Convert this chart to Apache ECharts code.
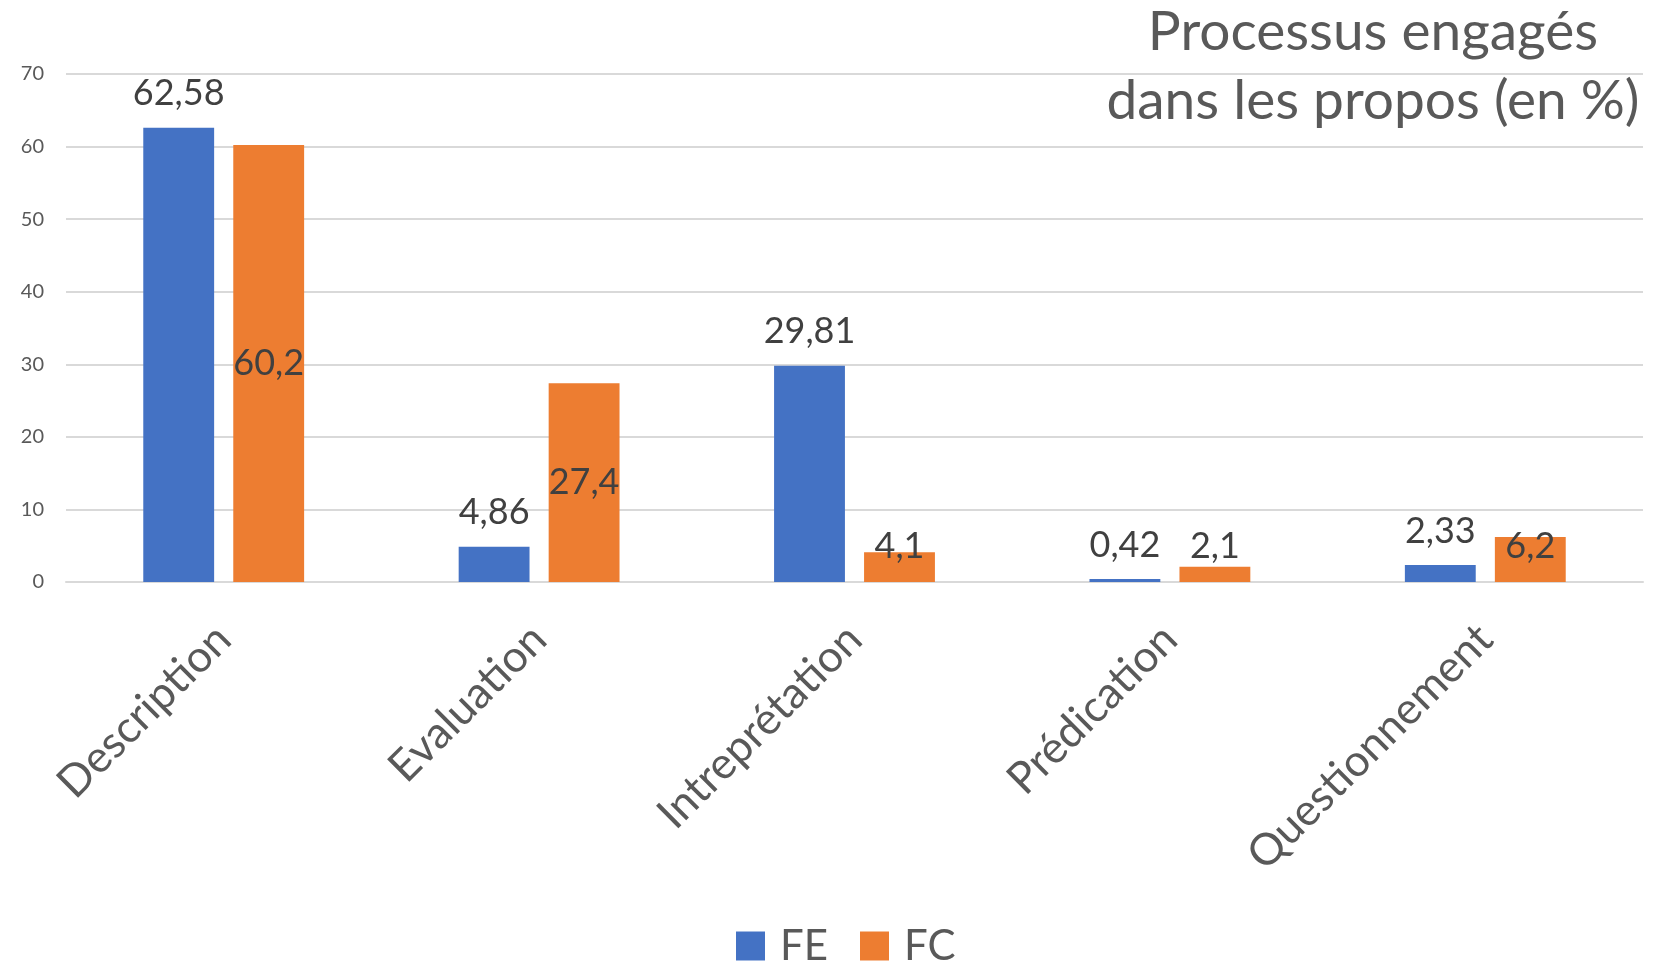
<!DOCTYPE html>
<html>
<head>
<meta charset="utf-8">
<script src="https://cdn.jsdelivr.net/npm/echarts@6/dist/echarts.min.js"></script>
<style>
  html, body { margin: 0; padding: 0; background: #fff; }
  #chart { width: 1657px; height: 961px; }
</style>
</head>
<body>
<div id="chart"></div>
<script>
// Processus engagés dans les propos (en %)
const categories = ['Description', 'Evaluation', 'Intrepr\u00e9tation', 'Pr\u00e9dication', 'Questionnement'];
const seriesNames = ['FE', 'FC'];
const valuesFE = [62.58, 4.86, 29.81, 0.42, 2.33];
const valuesFC = [60.2, 27.4, 4.1, 2.1, 6.2];
const yTicks = [0, 10, 20, 30, 40, 50, 60, 70];

const FONT = 'Lato, "Open Sans", sans-serif';
const fmt = v => String(v).replace('.', ',');

const chart = echarts.init(document.getElementById('chart'), null, { renderer: 'canvas' });

chart.setOption({
  backgroundColor: '#ffffff',
  animation: false,
  title: {
    text: 'Processus engag\u00e9s\ndans les propos (en %)',
    left: 1368,
    top: -7,
    textAlign: 'center',
    textStyle: {
      fontFamily: FONT,
      fontSize: 55,
      fontWeight: 'normal',
      color: '#595959',
      lineHeight: 69,
      align: 'center'
    }
  },
  legend: {
    data: seriesNames,
    left: 731,
    bottom: -11,
    itemWidth: 29,
    itemHeight: 29,
    itemGap: 32,
    icon: 'rect',
    textStyle: { fontFamily: FONT, fontSize: 42, color: '#595959', padding: [0, 0, 0, 10] }
  },
  grid: { left: 66, right: 14, top: 74, bottom: 379, containLabel: false },
  xAxis: {
    type: 'category',
    data: categories,
    axisLine: { show: true, lineStyle: { color: '#D9D9D9', width: 2 } },
    axisTick: { show: false },
    axisLabel: {
      rotate: 45,
      interval: 0,
      margin: 50,
      fontFamily: FONT,
      fontSize: 44,
      color: '#595959'
    }
  },
  yAxis: {
    type: 'value',
    min: yTicks[0],
    max: yTicks[yTicks.length - 1],
    interval: 10,
    axisLine: { show: false },
    axisTick: { show: false },
    splitLine: { lineStyle: { color: '#D9D9D9', width: 2 } },
    axisLabel: { margin: 22, fontFamily: FONT, fontSize: 20, color: '#595959' }
  },
  series: [
    {
      name: seriesNames[0],
      type: 'bar',
      data: valuesFE,
      barGap: '27%',
      barCategoryGap: '49%',
      itemStyle: { color: '#4472C4' },
      label: {
        show: true,
        position: 'top',
        distance: 16,
        formatter: p => fmt(p.value),
        fontFamily: FONT,
        fontSize: 36,
        color: '#404040'
      }
    },
    {
      name: seriesNames[1],
      type: 'bar',
      data: valuesFC,
      itemStyle: { color: '#ED7D31' },
      label: {
        show: true,
        position: 'inside',
        formatter: p => fmt(p.value),
        fontFamily: FONT,
        fontSize: 36,
        color: '#404040'
      },
      // keep centred labels of short bars clear of the baseline
      labelLayout: p => {
        const bottom = p.rect.y + p.rect.height;
        const cy = p.labelRect.y + p.labelRect.height / 2;
        return {
          x: p.labelRect.x + p.labelRect.width / 2,
          y: Math.min(cy, bottom - 36),
          align: 'center',
          verticalAlign: 'middle'
        };
      }
    }
  ]
});
</script>
</body>
</html>
